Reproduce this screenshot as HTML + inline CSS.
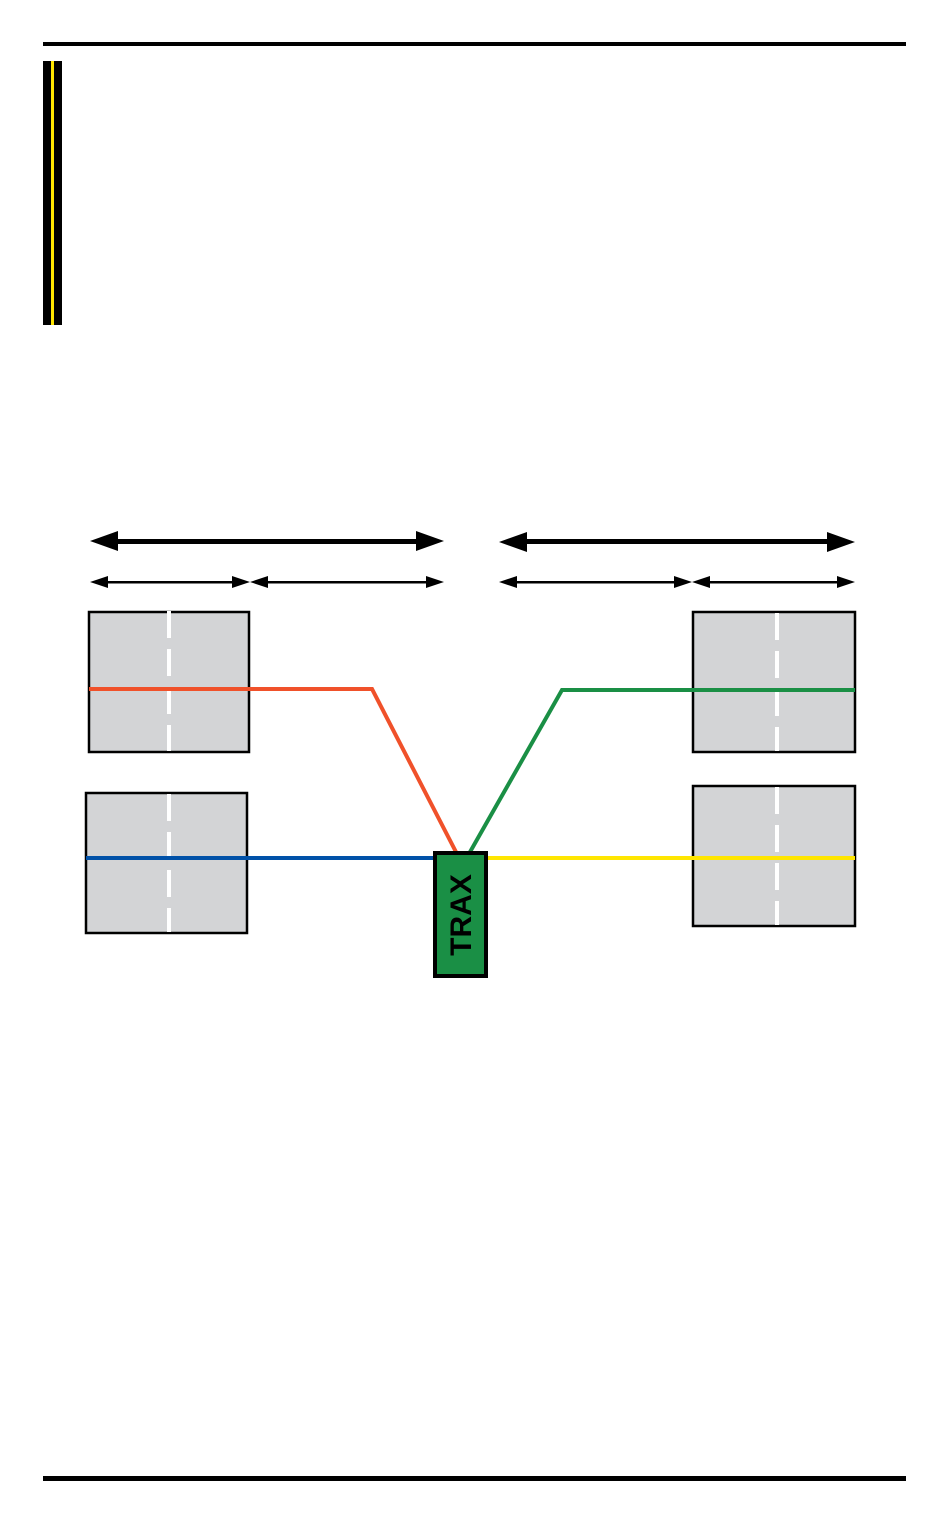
<!DOCTYPE html>
<html><head><meta charset="utf-8"><style>
html,body{margin:0;padding:0;background:#fff;}
svg{display:block;}
</style></head><body>
<svg width="950" height="1525" viewBox="0 0 950 1525" xmlns="http://www.w3.org/2000/svg">
<defs>
<marker id="bigL" markerUnits="userSpaceOnUse" markerWidth="30" markerHeight="22" refX="0" refY="11" orient="auto"><path d="M0,11 L28,1 L28,21 Z" fill="#000"/></marker>
</defs>
<!-- rules -->
<rect x="43" y="42" width="863" height="4" fill="#000"/>
<rect x="43" y="1476" width="863" height="5" fill="#000"/>
<!-- side bar -->
<rect x="43" y="61" width="19" height="264" fill="#000"/>
<rect x="51" y="61" width="3" height="264" fill="#ffe600"/>
<!-- big arrows -->
<g fill="#000">
<rect x="115" y="539" width="305" height="5"/>
<path d="M90,541 L118,531 L118,551 Z"/><path d="M444,541 L416,531 L416,551 Z"/>
<rect x="524" y="539" width="306" height="5"/>
<path d="M499,542 L527,532 L527,552 Z"/><path d="M855,542 L827,532 L827,552 Z"/>
<!-- small arrows -->
<rect x="100" y="581" width="140" height="2.5"/>
<path d="M90,582 L108,576 L108,588 Z"/><path d="M250,582 L232,576 L232,588 Z"/>
<rect x="260" y="581" width="174" height="2.5"/>
<path d="M250,582 L268,576 L268,588 Z"/><path d="M444,582 L426,576 L426,588 Z"/>
<rect x="509" y="581" width="173" height="2.5"/>
<path d="M499,582 L517,576 L517,588 Z"/><path d="M692,582 L674,576 L674,588 Z"/>
<rect x="702" y="581" width="143" height="2.5"/>
<path d="M692,582 L710,576 L710,588 Z"/><path d="M855,582 L837,576 L837,588 Z"/>
</g>
<!-- boxes -->
<g fill="#d3d4d6" stroke="#000" stroke-width="2.5">
<rect x="89" y="612" width="160" height="140"/>
<rect x="86" y="793" width="161" height="140"/>
<rect x="693" y="612" width="162" height="140"/>
<rect x="693" y="786" width="162" height="140"/>
</g>
<g stroke="#fff" stroke-width="4" stroke-dasharray="27 11">
<line x1="169" y1="611" x2="169" y2="751"/>
<line x1="169" y1="794" x2="169" y2="932"/>
<line x1="777" y1="613" x2="777" y2="751"/>
<line x1="777" y1="787" x2="777" y2="925"/>
</g>
<!-- lines -->
<g fill="none" stroke-width="4">
<polyline points="89,689 372,689 456,852" stroke="#f0512a"/>
<polyline points="470,852 562,690 855,690" stroke="#1a8f45"/>
<line x1="86" y1="858" x2="435" y2="858" stroke="#0051a8"/>
<line x1="486" y1="858" x2="855" y2="858" stroke="#ffe600"/>
</g>
<!-- TRAX -->
<rect x="435" y="853" width="51" height="123" fill="#1a8f45" stroke="#000" stroke-width="4"/>
<text x="0" y="0" transform="translate(471,915) rotate(-90)" text-anchor="middle" font-family="Liberation Sans, sans-serif" font-weight="bold" font-size="30" fill="#000">TRAX</text>
</svg>
</body></html>
